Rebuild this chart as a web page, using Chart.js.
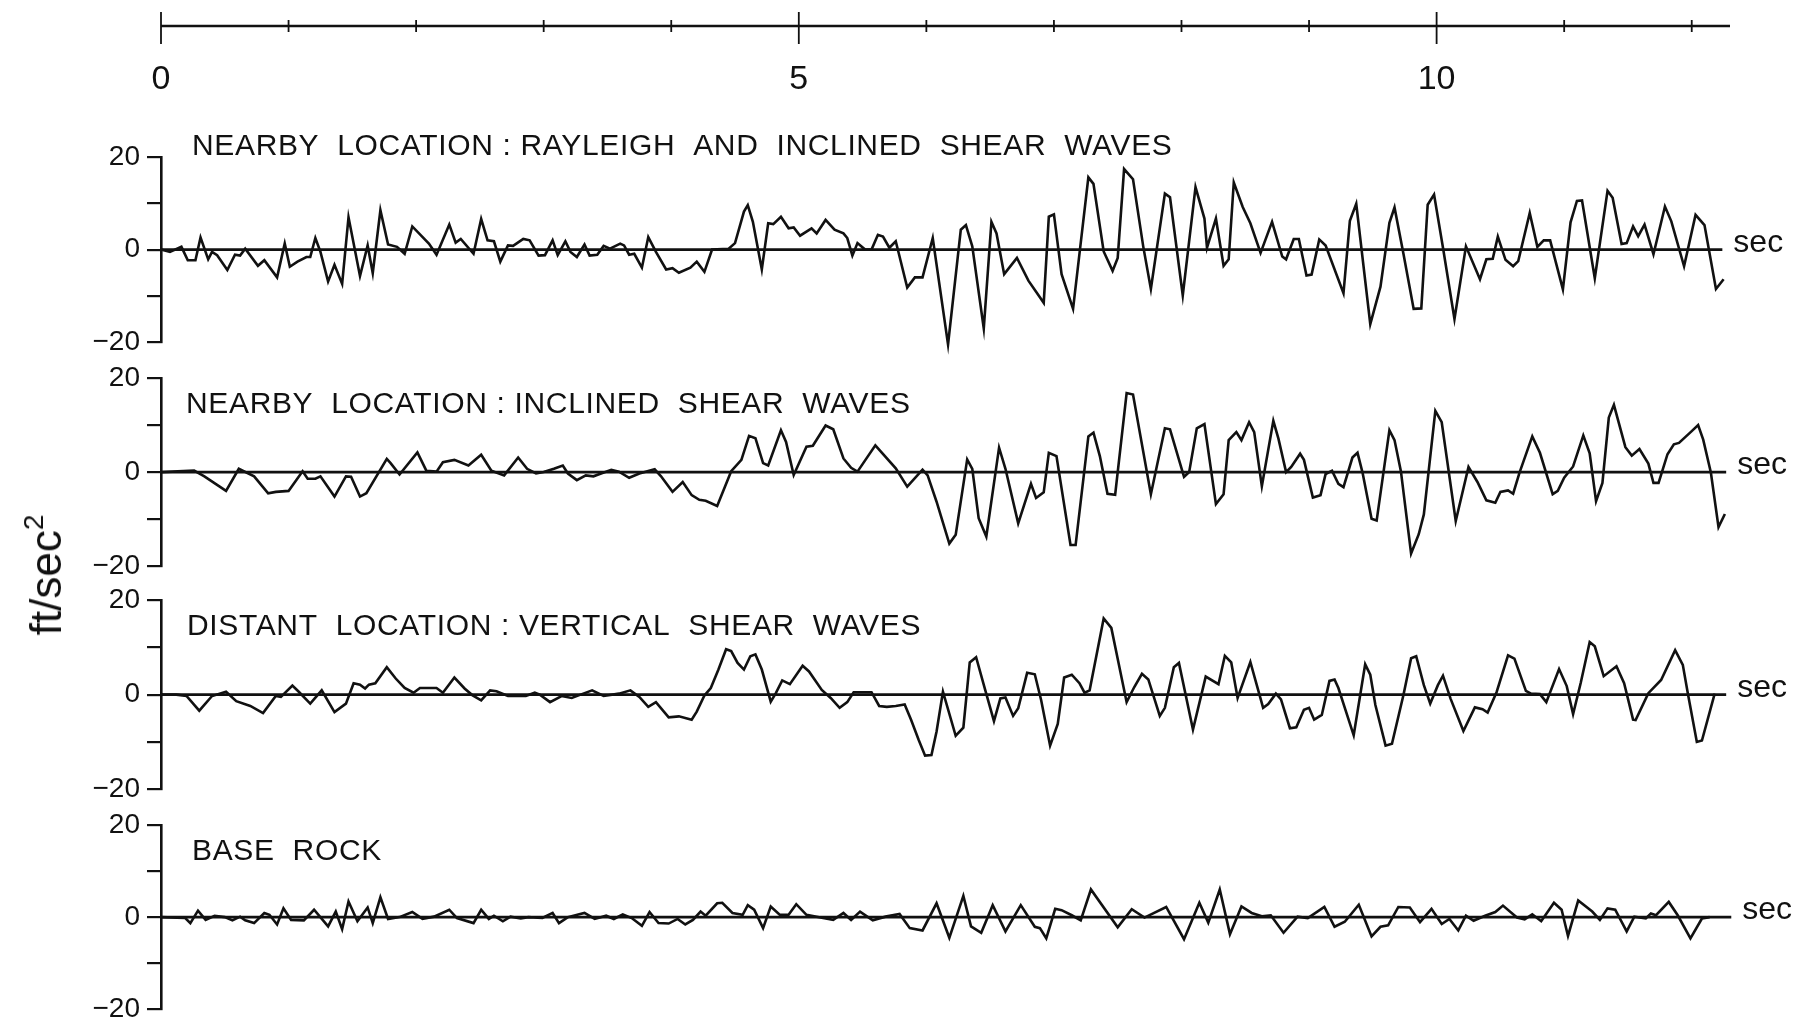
<!DOCTYPE html>
<html>
<head>
<meta charset="utf-8">
<script src="https://cdn.jsdelivr.net/npm/chart.js@4.4.0/dist/chart.umd.min.js"></script>
<style>
html, body { margin: 0; padding: 0; background: #fff; }
#page { position: relative; width: 1802px; height: 1029px; overflow: hidden; background: #fff; }
#page canvas { position: absolute; left: 0; }
#ylabel {
    position: absolute; left: 46px; top: 575px;
    transform: translate(-50%, -50%) rotate(-90deg);
    font: 44px "Liberation Sans", Arial, sans-serif; color: #111; white-space: nowrap;
}
#ylabel sup { font-size: 28px; vertical-align: 18px; line-height: 0; }
</style>
</head>
<body>
<div id="page">
    <canvas id="timeAxis"></canvas>
    <canvas id="panel0"></canvas>
    <canvas id="panel1"></canvas>
    <canvas id="panel2"></canvas>
    <canvas id="panel3"></canvas>
    <div id="ylabel">ft/sec<sup>2</sup></div>
</div>
<script>
// ---- data ----
// time axis, seconds
const TIME_MAX = 12.3;
const TIME_TICKS = [0, 1, 2, 3, 4, 5, 6, 7, 8, 9, 10, 11, 12];
const TIME_LABELS = [0, 5, 10];

// acceleration axis, ft/sec^2
const ACC_MIN = -20, ACC_MAX = 20, ACC_STEP = 10;
const ACC_LABELS = [20, 0, -20];

const TITLES = [
    'NEARBY  LOCATION : RAYLEIGH  AND  INCLINED  SHEAR  WAVES',
    'NEARBY  LOCATION : INCLINED  SHEAR  WAVES',
    'DISTANT  LOCATION : VERTICAL  SHEAR  WAVES',
    'BASE  ROCK'
];
// where each zero (sec) line stops
const ZERO_END = [12.24, 12.27, 12.27, 12.31];

// nearby location: rayleigh and inclined shear waves
const rayleighTime = [0.00,0.07,0.16,0.21,0.27,0.31,0.37,0.40,0.44,0.52,
    0.58,0.62,0.66,0.76,0.81,0.91,0.97,1.01,1.07,1.14,
    1.17,1.21,1.25,1.31,1.36,1.42,1.47,1.56,1.62,1.66,
    1.72,1.78,1.85,1.91,1.97,2.10,2.16,2.26,2.31,2.35,
    2.45,2.51,2.56,2.61,2.66,2.72,2.76,2.84,2.89,2.96,
    3.01,3.07,3.11,3.17,3.21,3.26,3.32,3.36,3.42,3.47,
    3.52,3.60,3.63,3.67,3.71,3.77,3.82,3.88,3.96,4.01,
    4.06,4.15,4.20,4.26,4.32,4.45,4.50,4.57,4.60,4.64,
    4.71,4.76,4.80,4.86,4.92,4.96,5.01,5.10,5.14,5.21,
    5.28,5.35,5.38,5.42,5.46,5.52,5.57,5.62,5.66,5.71,
    5.76,5.78,5.85,5.91,5.97,6.05,6.17,6.27,6.31,6.36,
    6.45,6.51,6.55,6.61,6.71,6.80,6.92,6.96,7.00,7.06,
    7.15,7.27,7.31,7.39,7.46,7.50,7.55,7.62,7.70,7.76,
    7.87,7.91,8.01,8.11,8.18,8.20,8.27,8.33,8.37,8.41,
    8.48,8.54,8.62,8.71,8.79,8.82,8.88,8.92,8.98,9.02,
    9.08,9.13,9.27,9.32,9.37,9.48,9.56,9.63,9.67,9.74,
    9.82,9.88,9.93,9.98,10.05,10.14,10.23,10.34,10.39,10.44,
    10.48,10.54,10.60,10.64,10.73,10.79,10.84,10.89,10.99,11.05,
    11.10,11.14,11.24,11.34,11.38,11.45,11.49,11.54,11.58,11.63,
    11.70,11.79,11.84,11.94,12.03,12.10,12.19,12.25];
const rayleighAccel = [0,-0.5,0.6,-2.3,-2.3,2.6,-2.1,-0.5,-1.2,-4.4,
    -1.1,-1.3,0.2,-3.5,-2.3,-6.0,1.3,-3.7,-2.6,-1.6,
    -1.6,2.5,-0.5,-6.9,-3.3,-7.4,7.0,-5.7,0.9,-5.1,
    8.5,1.1,0.6,-0.9,5.0,1.3,-1.1,5.4,1.5,2.3,
    -0.9,6.6,2.0,1.8,-2.6,0.9,0.8,2.3,2.0,-1.3,
    -1.2,2.0,-1.2,1.8,-0.5,-1.6,1.1,-1.3,-1.1,0.8,
    0.2,1.3,0.9,-1.1,-0.9,-3.9,2.7,-0.5,-4.3,-4.0,
    -5.0,-3.9,-2.6,-4.8,0,0.2,1.4,8.2,9.6,6.0,
    -4.3,5.7,5.5,7.1,4.6,4.8,3.0,4.6,3.5,6.4,
    4.3,3.5,2.5,-1.3,1.4,0,0,3.2,2.8,0.4,
    1.8,-0.4,-8.2,-6.0,-6.0,2.5,-20.5,4.3,5.3,0.7,
    -17.0,6.0,3.5,-5.3,-1.8,-6.7,-11.5,7.1,7.6,-5.3,
    -12.8,15.6,14.2,-0.4,-4.6,-1.8,17.4,15.2,0.7,-8.5,
    12.1,11.3,-9.9,13.5,6.7,0.4,6.7,-3.5,-2.1,14.5,
    9.2,5.7,-0.7,6.0,-1.5,-2.1,2.3,2.3,-5.6,-5.4,
    2.2,0.9,-9.4,6.2,9.9,-16.1,-8.0,5.8,9.1,-0.9,
    -12.8,-12.7,9.7,11.9,0.4,-15.0,0.7,-6.4,-2.1,-2.0,
    2.8,-2.2,-3.6,-2.5,7.9,0.6,2.0,2.0,-8.6,5.9,
    10.5,10.6,-6.2,12.7,11.2,1.2,1.4,5.0,2.9,5.4,
    -1.0,9.3,6.1,-3.6,7.5,5.3,-8.5,-6.4];

// nearby location: inclined shear waves
const inclinedTime = [0.00,0.26,0.34,0.51,0.61,0.73,0.84,0.90,1.00,1.11,
    1.15,1.21,1.25,1.36,1.45,1.49,1.56,1.61,1.77,1.80,
    1.87,2.01,2.08,2.16,2.21,2.30,2.41,2.51,2.59,2.69,
    2.80,2.87,2.94,3.00,3.08,3.15,3.19,3.26,3.33,3.39,
    3.45,3.53,3.59,3.67,3.75,3.87,3.92,4.01,4.09,4.16,
    4.22,4.27,4.36,4.47,4.55,4.61,4.66,4.72,4.76,4.86,
    4.90,4.96,5.06,5.11,5.21,5.27,5.35,5.41,5.46,5.60,
    5.76,5.85,5.97,6.01,6.08,6.18,6.23,6.32,6.36,6.41,
    6.47,6.57,6.62,6.72,6.82,6.86,6.92,6.96,7.02,7.13,
    7.17,7.27,7.31,7.36,7.42,7.48,7.57,7.62,7.76,7.87,
    7.91,8.02,8.06,8.12,8.18,8.27,8.33,8.37,8.43,8.47,
    8.53,8.57,8.63,8.72,8.76,8.82,8.86,8.93,8.96,9.03,
    9.09,9.13,9.18,9.23,9.27,9.34,9.38,9.42,9.49,9.53,
    9.63,9.67,9.72,9.80,9.86,9.90,9.99,10.04,10.15,10.25,
    10.32,10.39,10.46,10.50,10.56,10.60,10.65,10.75,10.81,10.91,
    10.95,11.00,11.07,11.15,11.20,11.25,11.30,11.35,11.39,11.48,
    11.53,11.59,11.66,11.70,11.74,11.81,11.86,11.90,12.00,12.05,
    12.09,12.15,12.21,12.26];
const inclinedAccel = [0,0.3,-0.9,-4.0,0.7,-0.9,-4.5,-4.2,-4.0,0.2,
    -1.4,-1.4,-0.9,-5.2,-0.9,-1.0,-5.2,-4.5,2.8,1.9,
    -0.5,4.2,0.3,0.1,2.1,2.6,1.4,3.7,0.3,-0.7,
    3.1,0.7,-0.3,0,0.7,1.4,-0.3,-1.7,-0.7,-0.9,
    -0.3,0.5,0.1,-1.2,-0.3,0.6,-0.9,-4.2,-2.1,-4.9,
    -5.9,-6.1,-7.2,0.2,2.6,7.7,7.2,1.9,1.4,8.9,
    6.4,-0.6,5.4,5.6,9.9,9.1,2.9,0.9,0.1,5.7,
    0.8,-3.1,0.5,-0.7,-6.3,-15.2,-13.3,2.7,0.7,-9.8,
    -13.7,5.2,0.7,-10.9,-2.5,-5.5,-4.3,4.1,3.4,-15.5,
    -15.5,7.6,8.4,3.4,-4.6,-4.8,16.8,16.5,-4.7,9.3,
    9.1,-1.0,0,9.3,10.2,-6.8,-4.7,6.8,8.5,6.8,
    10.6,8.5,-3.0,10.9,7.1,0,1.1,3.9,2.6,-5.4,
    -4.9,-0.4,0.3,-2.5,-3.2,3.1,4.1,-0.2,-9.9,-10.3,
    8.9,6.8,0.2,-17.3,-13.2,-9.0,13.0,10.6,-10.4,1.1,
    -2.1,-6.0,-6.5,-4.2,-3.9,-4.6,-0.1,7.6,4.1,-4.7,
    -4.0,-1.2,1.2,7.8,4.0,-6.2,-2.3,11.6,14.3,5.3,
    3.5,4.9,1.8,-2.3,-2.3,3.8,5.9,6.2,8.7,10.0,
    6.9,-0.1,-11.7,-8.9];

// distant location: vertical shear waves
const verticalTime = [0.00,0.12,0.20,0.30,0.40,0.51,0.59,0.70,0.80,0.90,
    0.94,1.03,1.08,1.17,1.26,1.36,1.45,1.51,1.56,1.60,
    1.63,1.68,1.77,1.84,1.91,1.98,2.03,2.16,2.21,2.30,
    2.38,2.44,2.51,2.58,2.63,2.72,2.86,2.93,2.97,3.05,
    3.14,3.22,3.31,3.38,3.47,3.59,3.68,3.75,3.82,3.88,
    3.98,4.06,4.16,4.20,4.26,4.31,4.37,4.43,4.47,4.52,
    4.57,4.62,4.66,4.71,4.78,4.82,4.87,4.93,5.03,5.08,
    5.18,5.25,5.32,5.38,5.43,5.57,5.63,5.69,5.76,5.83,
    5.88,5.94,5.99,6.04,6.08,6.13,6.23,6.29,6.34,6.39,
    6.46,6.53,6.58,6.62,6.68,6.72,6.79,6.85,6.90,6.97,
    7.03,7.08,7.14,7.20,7.24,7.28,7.39,7.45,7.57,7.63,
    7.69,7.74,7.83,7.87,7.94,7.98,8.09,8.19,8.29,8.34,
    8.39,8.44,8.54,8.58,8.64,8.68,8.74,8.78,8.85,8.90,
    8.96,9.00,9.04,9.10,9.16,9.20,9.23,9.35,9.44,9.48,
    9.52,9.60,9.65,9.74,9.80,9.84,9.90,9.95,10.01,10.05,
    10.11,10.21,10.30,10.36,10.40,10.47,10.56,10.61,10.70,10.74,
    10.81,10.86,10.96,11.02,11.07,11.13,11.20,11.24,11.31,11.41,
    11.47,11.54,11.56,11.66,11.76,11.87,11.93,11.97,12.04,12.08,
    12.18];
const verticalAccel = [0,0,-0.3,-3.4,-0.3,0.6,-1.4,-2.4,-3.9,-0.3,
    -0.5,1.9,0.6,-1.9,0.9,-3.7,-1.9,2.4,2.1,1.3,
    2.1,2.4,5.8,3.4,1.4,0.4,1.4,1.4,0.4,3.6,
    1.3,-0.1,-1.2,0.9,0.7,-0.3,-0.3,0.4,0,-1.6,
    -0.3,-0.7,0.2,0.9,-0.3,0.2,0.9,-0.5,-2.6,-1.6,
    -4.8,-4.6,-5.3,-3.6,-0.2,1.4,5.3,9.6,9.2,6.7,
    5.3,8.1,8.5,5.3,-1.5,0.3,3.0,2.2,6.1,4.9,
    1.0,-0.7,-2.8,-1.6,0.5,0.5,-2.4,-2.6,-2.4,-2.1,
    -5.3,-9.6,-12.9,-12.8,-7.8,0.6,-8.7,-7.0,6.8,7.9,
    1.1,-5.6,-0.8,-0.6,-4.5,-2.9,4.6,4.3,-1.2,-10.8,
    -6.2,3.6,4.2,2.4,0.4,0.9,16.1,14.1,-1.6,1.6,
    4.4,3.2,-4.5,-2.8,5.8,6.7,-7.4,3.8,2.2,8.2,
    6.8,-0.7,6.9,3.0,-2.8,-2.0,0.2,-1.0,-7.1,-6.9,
    -3.2,-2.8,-5.3,-4.3,2.9,3.2,1.4,-8.6,6.4,4.2,
    -2.2,-10.8,-10.4,-0.1,7.7,8.1,2.0,-1.9,2.0,4.0,
    -0.9,-7.7,-2.7,-3.1,-3.8,0.5,8.3,7.6,0.8,0.2,
    0.1,-1.6,5.4,1.8,-4.1,2.5,11.1,10.2,3.9,6.0,
    2.4,-5.3,-5.4,0.3,3.1,9.4,6.3,0.2,-10.0,-9.7,
    0.2];

// base rock
const baseRockTime = [0.00,0.19,0.23,0.29,0.35,0.42,0.50,0.56,0.62,0.66,
    0.73,0.81,0.85,0.91,0.96,1.02,1.12,1.20,1.31,1.37,
    1.42,1.47,1.54,1.62,1.66,1.72,1.78,1.87,1.97,2.05,
    2.14,2.26,2.32,2.45,2.51,2.57,2.61,2.68,2.74,2.82,
    2.88,2.99,3.07,3.12,3.19,3.32,3.40,3.49,3.55,3.62,
    3.69,3.77,3.83,3.90,3.98,4.05,4.11,4.17,4.23,4.27,
    4.36,4.40,4.48,4.56,4.60,4.65,4.72,4.78,4.85,4.92,
    4.98,5.06,5.19,5.27,5.35,5.41,5.48,5.58,5.68,5.79,
    5.87,5.97,6.08,6.18,6.29,6.35,6.43,6.52,6.62,6.74,
    6.85,6.89,6.94,7.01,7.06,7.14,7.21,7.29,7.50,7.61,
    7.71,7.88,8.02,8.14,8.21,8.30,8.38,8.47,8.55,8.63,
    8.70,8.80,8.91,8.99,9.12,9.20,9.28,9.39,9.49,9.56,
    9.62,9.70,9.79,9.87,9.96,10.04,10.10,10.17,10.23,10.29,
    10.38,10.46,10.52,10.63,10.69,10.75,10.82,10.92,10.98,11.03,
    11.11,11.22,11.28,11.34,11.40,11.49,11.55,11.64,11.68,11.72,
    11.82,11.89,11.99,12.08,12.14];
const baseRockAccel = [0,-0.2,-1.3,1.4,-0.6,0.3,0,-0.7,0.1,-0.7,
    -1.3,0.9,0.5,-1.6,1.9,-0.6,-0.7,1.6,-2.0,1.2,
    -2.6,3.4,-0.9,2.1,-1.3,4.3,-0.4,0,1.1,-0.4,
    0.1,1.6,-0.2,-1.3,1.6,-0.4,0.3,-0.9,0.1,-0.3,
    0,-0.2,0.9,-1.3,0,0.9,-0.4,0.3,-0.4,0.6,
    -0.2,-1.9,1.1,-1.3,-1.4,-0.4,-1.6,-0.6,1.2,0.3,
    3.0,3.1,0.9,0.5,2.6,1.6,-2.4,2.3,0.5,0.5,
    2.8,0.5,-0.2,-0.6,0.9,-0.6,1.2,-0.7,0.1,0.7,
    -2.4,-2.9,3.0,-4.5,4.6,-2.0,-3.4,2.6,-3.1,2.6,
    -2.1,-2.4,-4.6,1.8,1.5,0.4,-0.7,6.0,-2.2,1.7,
    -0.1,2.2,-4.8,3.1,-1.2,6.0,-3.7,2.3,0.9,0.2,
    0.4,-3.4,0.1,-0.2,2.2,-2.1,-1.0,2.7,-4.2,-2.1,
    -1.8,2.2,2.1,-1.1,1.8,-1.5,-0.4,-2.9,0.3,-0.8,
    0.3,1.1,2.5,-0.1,-0.5,0.6,-0.9,3.1,1.6,-4.1,
    3.6,1.2,-0.6,1.9,1.6,-3.1,0.1,-0.3,0.8,0.4,
    3.3,0.4,-4.6,-0.3,0];

// ---- layout ----
const INK = '#111';
const FONT = '"Liberation Sans", Arial, Helvetica, sans-serif';
const PAGE_W = 1802;
const AXIS_LEFT = 161;          // pixel of t = 0
const RIGHT_PAD = PAGE_W - 1730; // pixel of t = TIME_MAX
const PANEL_TOP = [157, 378, 600, 825];     // pixel of +20
const PANEL_BOTTOM = [346, 570, 793, 1013]; // pixel of -20
const PAD_TOP = 40, PAD_BOTTOM = 20;
const TITLE_DX = [31, 25, 26, 31];
const TITLE_DY = [-2, 35, 35, 35];

// titles and "sec" labels for each trace panel
const panelText = {
    id: 'panelText',
    afterDraw(chart, args, opts) {
        const i = opts.index;
        const { ctx, chartArea, scales } = chart;
        ctx.save();
        ctx.fillStyle = INK;
        ctx.textBaseline = 'alphabetic';
        ctx.font = '30px ' + FONT;
        ctx.letterSpacing = '0.65px';
        ctx.fillText(TITLES[i], chartArea.left + TITLE_DX[i], chartArea.top + TITLE_DY[i]);
        ctx.letterSpacing = '0px';
        ctx.font = '32px ' + FONT;
        ctx.fillText('sec', scales.x.getPixelForValue(ZERO_END[i]) + 11, scales.y.getPixelForValue(0) + 2);
        ctx.restore();
    }
};

// axis line with crossing ticks for the time scale at the top
const timeAxisLine = {
    id: 'timeAxisLine',
    afterDraw(chart) {
        const { ctx, chartArea, scales: { x } } = chart;
        const y0 = chartArea.bottom;
        ctx.save();
        ctx.strokeStyle = INK;
        ctx.lineWidth = 2.6;
        ctx.beginPath();
        ctx.moveTo(x.getPixelForValue(0), y0);
        ctx.lineTo(x.getPixelForValue(TIME_MAX), y0);
        ctx.stroke();
        ctx.lineWidth = 1.8;
        TIME_TICKS.forEach(t => {
            const px = x.getPixelForValue(t);
            const major = TIME_LABELS.includes(t);
            ctx.beginPath();
            ctx.moveTo(px, y0 - (major ? 14 : 6));
            ctx.lineTo(px, y0 + (major ? 18 : 6));
            ctx.stroke();
        });
        ctx.restore();
    }
};

function makeTimeAxis() {
    const cv = document.getElementById('timeAxis');
    cv.width = PAGE_W; cv.height = 110; cv.style.top = '0px';
    return new Chart(cv, {
        type: 'line',
        data: { datasets: [] },
        options: {
            responsive: false, animation: false, events: [],
            layout: { padding: { left: AXIS_LEFT, right: RIGHT_PAD, top: 12, bottom: 0 } },
            plugins: { legend: { display: false }, tooltip: { enabled: false } },
            scales: {
                x: {
                    type: 'linear', position: 'bottom', min: 0, max: TIME_MAX,
                    afterFit: s => { s.height = 110 - 26; },
                    grid: { display: false }, border: { display: false },
                    ticks: {
                        stepSize: 1, autoSkip: false, maxRotation: 0, includeBounds: false,
                        padding: 25, color: INK, font: { family: FONT, size: 34 },
                        callback: v => TIME_LABELS.includes(v) ? String(v) : ''
                    }
                },
                y: { display: false, min: 0, max: 1 }
            }
        },
        plugins: [timeAxisLine]
    });
}

function makePanel(i, time, accel) {
    if (time.length !== accel.length) throw new Error('length mismatch in panel ' + i);
    const cv = document.getElementById('panel' + i);
    cv.width = PAGE_W;
    cv.height = PANEL_BOTTOM[i] - PANEL_TOP[i] + PAD_TOP + PAD_BOTTOM;
    cv.style.top = (PANEL_TOP[i] - PAD_TOP) + 'px';
    return new Chart(cv, {
        type: 'line',
        data: {
            datasets: [{
                data: time.map((t, k) => ({ x: t, y: accel[k] })),
                borderColor: INK, borderWidth: 2.6, pointRadius: 0, tension: 0, clip: false
            }, {
                data: [{ x: 0, y: 0 }, { x: ZERO_END[i], y: 0 }],
                borderColor: INK, borderWidth: 2.6, pointRadius: 0, clip: false
            }]
        },
        options: {
            responsive: false, animation: false, events: [],
            layout: { padding: { left: 0, right: RIGHT_PAD, top: PAD_TOP, bottom: PAD_BOTTOM } },
            plugins: { legend: { display: false }, tooltip: { enabled: false }, panelText: { index: i } },
            scales: {
                x: { type: 'linear', min: 0, max: TIME_MAX, display: false },
                y: {
                    type: 'linear', min: ACC_MIN, max: ACC_MAX,
                    afterFit: s => { s.width = AXIS_LEFT; },
                    ticks: {
                        stepSize: ACC_STEP, color: INK, padding: 7,
                        font: { family: FONT, size: 28 },
                        callback: v => ACC_LABELS.includes(v) ? (v < 0 ? '\u2212' + Math.abs(v) : String(v)) : ''
                    },
                    grid: { drawOnChartArea: false, drawTicks: true, tickLength: 14, color: INK, lineWidth: 2.2 },
                    border: { display: true, color: INK, width: 2.6 }
                }
            }
        },
        plugins: [panelText]
    });
}

makeTimeAxis();
makePanel(0, rayleighTime, rayleighAccel);
makePanel(1, inclinedTime, inclinedAccel);
makePanel(2, verticalTime, verticalAccel);
makePanel(3, baseRockTime, baseRockAccel);
</script>
</body>
</html>
